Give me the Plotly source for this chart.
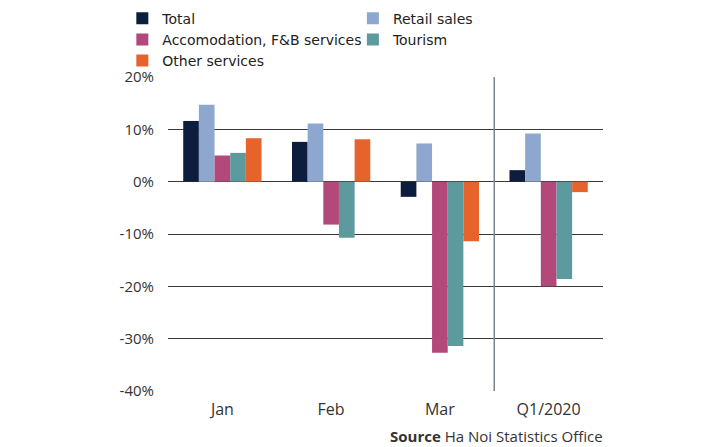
import plotly.graph_objects as go

categories = ["Jan", "Feb", "Mar", "Q1/2020"]
total = [11.6, 7.6, -2.9, 2.2]
retail = [14.7, 11.1, 7.3, 9.2]
accom = [5.0, -8.2, -32.7, -20.0]
tourism = [5.5, -10.7, -31.4, -18.6]
other = [8.3, 8.1, -11.4, -2.0]

series_names = ["Total", "Retail sales", "Accomodation, F&B services", "Tourism", "Other services"]
series_values = [total, retail, accom, tourism, other]
series_colors = ["#0c1d3e", "#8ea7cf", "#b3497a", "#5c9a9d", "#e6642b"]
series_legend = ["legend", "legend2", "legend", "legend2", "legend"]

y_tickvals = [20, 10, 0, -10, -20, -30, -40]
y_ticktext = ["20%", "10%", "0%", "-10%", "-20%", "-30%", "-40%"]

FONT = "Open Sans"
LFONT = "DejaVu Sans"
TXT = "#333333"

fig = go.Figure()
for name, vals, col, lg in zip(series_names, series_values, series_colors, series_legend):
    fig.add_trace(go.Bar(x=categories, y=vals, name=name, marker=dict(color=col, line=dict(width=0)),
                         legend=lg))

fig.add_shape(type="line", xref="x", yref="paper", x0=2.5, x1=2.5, y0=0, y1=1,
              line=dict(color="#7a8590", width=1.5), layer="above")

fig.add_annotation(xref="paper", yref="paper", x=1.005, y=0, xanchor="right", yanchor="top",
                   yshift=-33, showarrow=False,
                   text="<b>Source</b> Ha Noi Statistics Office",
                   font=dict(family=FONT, size=15, color=TXT))

fig.update_layout(
    width=720, height=447,
    margin=dict(l=168, r=117, t=77, b=56, autoexpand=False),
    paper_bgcolor="white", plot_bgcolor="white",
    barmode="group", bargap=0.28, bargroupgap=0,
    font=dict(family=FONT, size=14, color=TXT),
    legend=dict(orientation="v", x=-0.105, y=1.237, xanchor="left", yanchor="top",
                font=dict(family=LFONT, size=14, color="#222222"), itemwidth=30,
                tracegroupgap=0, bgcolor="rgba(0,0,0,0)"),
    legend2=dict(orientation="v", x=0.425, y=1.237, xanchor="left", yanchor="top",
                 font=dict(family=LFONT, size=14, color="#222222"), itemwidth=30,
                 tracegroupgap=0, bgcolor="rgba(0,0,0,0)"),
    xaxis=dict(showgrid=False, showline=False, ticks="", ticklabelstandoff=7,
               tickfont=dict(size=16, color=TXT)),
    yaxis=dict(range=[-40, 20], tickvals=y_tickvals, ticktext=y_ticktext,
               showgrid=True, gridcolor="#3a3a3a", gridwidth=1,
               zeroline=True, zerolinecolor="#3a3a3a", zerolinewidth=1,
               showline=False, ticks="", ticklabelstandoff=13,
               tickfont=dict(size=15, color=TXT)),
)

fig.write_html("out.html")
